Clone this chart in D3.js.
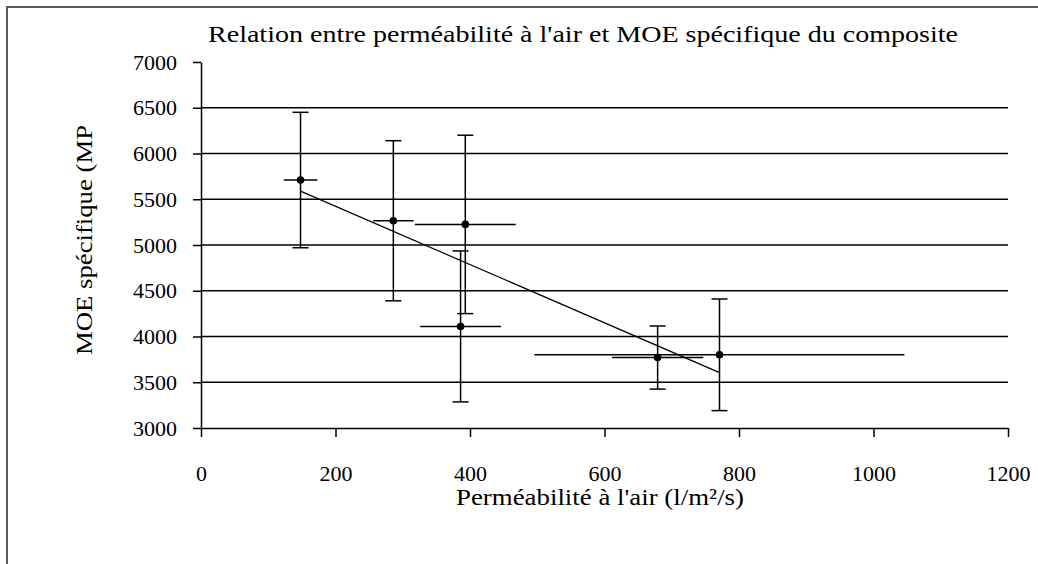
<!DOCTYPE html>
<html>
<head>
<meta charset="utf-8">
<script src="https://cdn.jsdelivr.net/npm/d3@7"></script>
<style>
  body { margin: 0; background: #fff; }
  svg text { font-family: "Liberation Serif", "Times New Roman", serif; fill: #000; }
</style>
</head>
<body>
<svg width="1038" height="564"></svg>
<script>
// values
const permeabilite = [148, 286, 393, 386, 679, 771];
const moe = [5710, 5265, 5225, 4110, 3770, 3800];
const errPerm = [25, 30, 75, 60, 68, 275];
const errMoe = [740, 875, 975, 825, 345, 610];
const xTicks = [0, 200, 400, 600, 800, 1000, 1200];
const yTicks = [3000, 3500, 4000, 4500, 5000, 5500, 6000, 6500, 7000];

const titre = "Relation entre perméabilité à l'air et MOE spécifique du composite";
const titreX = "Perméabilité à l'air (l/m²/s)";
const titreY = "MOE spécifique (MP";

const svg = d3.select('svg');
const W = 1038, H = 564;

// chart area frame (runs off the right and bottom of the picture)
svg.append('rect')
    .attr('x', 7).attr('y', 7)
    .attr('width', W + 20).attr('height', H + 20)
    .attr('fill', 'none').attr('stroke', '#5a5a5a').attr('stroke-width', 2);

const x = d3.scaleLinear().domain([0, 1200]).range([201, 1008]);
const y = d3.scaleLinear().domain([3000, 7000]).range([428, 62]);

// gridlines
svg.append('g').selectAll('line')
    .data(yTicks.filter(d => d > 3000 && d < 7000))
    .enter().append('line')
    .attr('x1', x(0)).attr('x2', x(1200))
    .attr('y1', d => y(d)).attr('y2', d => y(d))
    .attr('stroke', '#000').attr('stroke-width', 1.5);

// axes
const yAxis = svg.append('g')
    .attr('transform', 'translate(' + x(0) + ',0)')
    .call(d3.axisLeft(y).tickValues(yTicks).tickFormat(d3.format('d'))
        .tickSize(8).tickSizeOuter(0).tickPadding(16));
const xAxis = svg.append('g')
    .attr('transform', 'translate(0,' + y(3000) + ')')
    .call(d3.axisBottom(x).tickValues(xTicks).tickFormat(d3.format('d'))
        .tickSize(9).tickSizeOuter(0).tickPadding(28));

[yAxis, xAxis].forEach(a => {
    a.select('.domain').attr('stroke', '#000').attr('stroke-width', 1.5);
    a.selectAll('.tick line').attr('stroke', '#000').attr('stroke-width', 1.5);
    a.selectAll('.tick text')
        .style('font-family', '"Liberation Serif", serif')
        .style('font-size', '22px')
        .attr('fill', '#000');
});

// trend line (least squares on the points)
const mx = d3.mean(permeabilite), my = d3.mean(moe);
const sxy = d3.sum(permeabilite, (v, i) => (v - mx) * (moe[i] - my));
const sxx = d3.sum(permeabilite, v => (v - mx) * (v - mx));
const pente = sxy / sxx;
const x0 = d3.min(permeabilite), x1 = d3.max(permeabilite);
svg.append('line')
    .attr('x1', x(x0)).attr('y1', y(my + pente * (x0 - mx)))
    .attr('x2', x(x1)).attr('y2', y(my + pente * (x1 - mx)))
    .attr('stroke', '#000').attr('stroke-width', 1.2);

// error bars
const pts = permeabilite.map((v, i) => ({ px: v, py: moe[i], ex: errPerm[i], ey: errMoe[i] }));
const eb = svg.append('g').attr('stroke', '#000').attr('stroke-width', 1.5);
eb.selectAll('.h').data(pts).enter().append('line')
    .attr('x1', d => x(d.px - d.ex)).attr('x2', d => x(d.px + d.ex))
    .attr('y1', d => y(d.py)).attr('y2', d => y(d.py));
eb.selectAll('.v').data(pts).enter().append('line')
    .attr('x1', d => x(d.px)).attr('x2', d => x(d.px))
    .attr('y1', d => y(d.py - d.ey)).attr('y2', d => y(d.py + d.ey));
eb.selectAll('.ct').data(pts).enter().append('line')
    .attr('x1', d => x(d.px) - 8).attr('x2', d => x(d.px) + 8)
    .attr('y1', d => y(d.py + d.ey)).attr('y2', d => y(d.py + d.ey));
eb.selectAll('.cb').data(pts).enter().append('line')
    .attr('x1', d => x(d.px) - 8).attr('x2', d => x(d.px) + 8)
    .attr('y1', d => y(d.py - d.ey)).attr('y2', d => y(d.py - d.ey));

// points
svg.append('g').selectAll('circle')
    .data(pts).enter().append('circle')
    .attr('cx', d => x(d.px)).attr('cy', d => y(d.py))
    .attr('r', 3.8).attr('fill', '#000');

// titles
svg.append('text')
    .attr('x', 583).attr('y', 42)
    .attr('text-anchor', 'middle')
    .attr('textLength', 750).attr('lengthAdjust', 'spacingAndGlyphs')
    .style('font-size', '23px')
    .text(titre);

svg.append('text')
    .attr('x', 600).attr('y', 505)
    .attr('text-anchor', 'middle')
    .attr('textLength', 288).attr('lengthAdjust', 'spacingAndGlyphs')
    .style('font-size', '23px')
    .text(titreX);

svg.append('text')
    .attr('transform', 'translate(92,240) rotate(-90)')
    .attr('text-anchor', 'middle')
    .attr('textLength', 230).attr('lengthAdjust', 'spacingAndGlyphs')
    .style('font-size', '23px')
    .text(titreY);
</script>
</body>
</html>
